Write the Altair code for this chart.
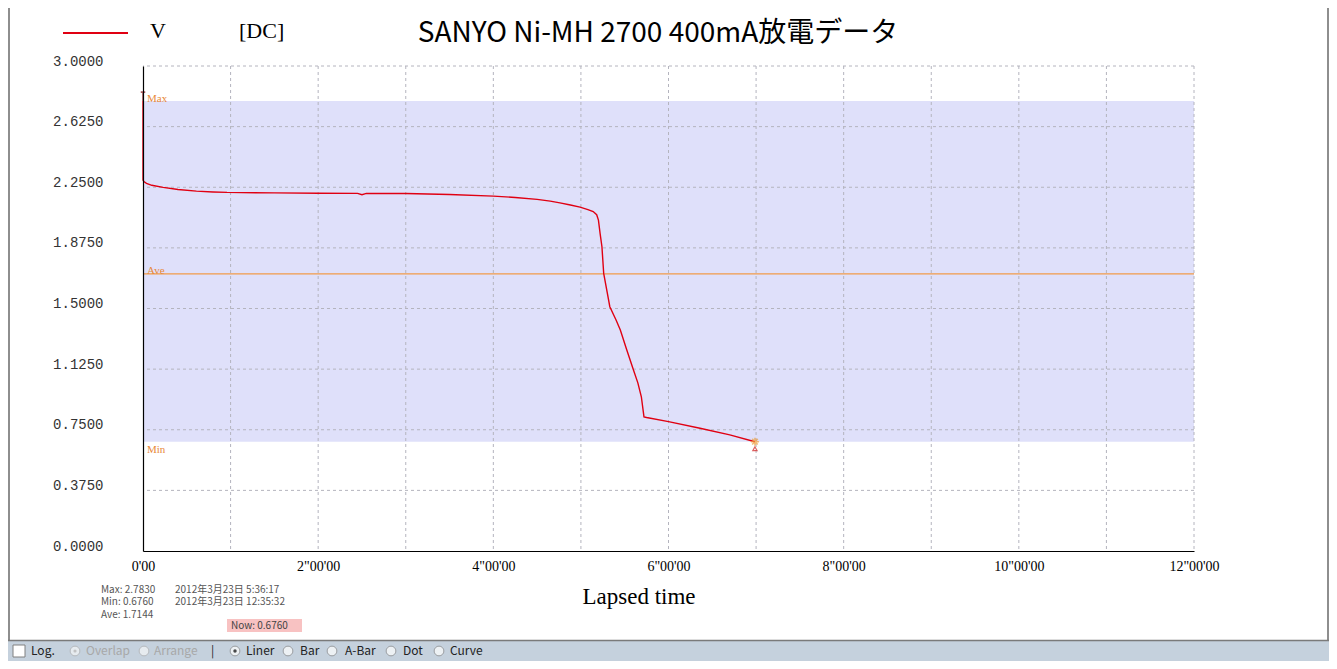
import altair as alt
import pandas as pd

# ---------------- data ----------------
time_h = [0.0, 0.0, 0.01, 0.04, 0.10, 0.23, 0.40, 0.61, 0.80, 0.96, 1.50, 2.00,
          2.45, 2.50, 2.55, 3.00, 3.50, 4.00, 4.25, 4.50, 4.65, 4.76, 4.88, 4.99,
          5.08, 5.14, 5.18, 5.20, 5.22, 5.24, 5.26, 5.30, 5.33, 5.40, 5.45, 5.52,
          5.60, 5.65, 5.69, 5.72, 5.75, 6.00, 6.36, 6.70, 6.987]
volts = [2.783, 2.294, 2.285, 2.274, 2.262, 2.249, 2.236, 2.226, 2.221, 2.218, 2.215, 2.213,
         2.212, 2.204, 2.212, 2.211, 2.205, 2.195, 2.187, 2.175, 2.164, 2.153, 2.140, 2.127,
         2.112, 2.100, 2.080, 2.047, 1.960, 1.882, 1.717, 1.600, 1.511, 1.430, 1.367, 1.250,
         1.120, 1.040, 0.954, 0.830, 0.826, 0.800, 0.759, 0.718, 0.676]

v_max = 2.7830
v_min = 0.6760
v_ave = 1.7144
v_now = 0.6760
t_max_label = "2012年3月23日  5:36:17"
t_min_label = "2012年3月23日 12:35:32"

x_ticks = list(range(0, 13))
y_ticks = [0.0, 0.375, 0.75, 1.125, 1.5, 1.875, 2.25, 2.625, 3.0]

title_text = "SANYO Ni-MH 2700 400mA放電データ"
series_name = "V"
series_unit = "[DC]"
x_title = "Lapsed time"
toolbar_items = ["Log.", "Overlap", "Arrange", "|", "Liner", "Bar", "A-Bar", "Dot", "Curve"]

# ---------------- helpers ----------------
xs = alt.Scale(domain=[x_ticks[0], x_ticks[-1]], nice=False)
ys = alt.Scale(domain=[y_ticks[0], y_ticks[-1]], nice=False)

ONE = alt.Data(values=[{}])

def note(text, x, y, **kw):
    return alt.Chart(ONE).mark_text(text=text, **kw).encode(x=alt.value(x), y=alt.value(y))

def box(x, x2, y, y2, **kw):
    return alt.Chart(ONE).mark_rect(**kw).encode(
        x=alt.value(x), x2=alt.value(x2), y=alt.value(y), y2=alt.value(y2))

def seg(x, x2, y, y2, **kw):
    return alt.Chart(ONE).mark_rule(**kw).encode(
        x=alt.value(x), x2=alt.value(x2), y=alt.value(y), y2=alt.value(y2))

def dot(x, y, **kw):
    return alt.Chart(ONE).mark_point(**kw).encode(x=alt.value(x), y=alt.value(y))

x_label_expr = ("datum.value == 0 ? \"0'00\" : "
                "(datum.value % 2 == 0 ? datum.value + \"\\\"00'00\" : '')")

x_axis = alt.Axis(values=x_ticks, labelExpr=x_label_expr, title=None, grid=False,
                  ticks=False, domainColor="#000000", domainWidth=1.2,
                  labelFont="Liberation Serif", labelFontSize=14, labelColor="#000000",
                  labelPadding=8, labelFlush=False, labelOverlap=False, zindex=1)
y_axis = alt.Axis(values=y_ticks, format=".4f", title=None, grid=False, ticks=False,
                  domainColor="#000000", domainWidth=1.2,
                  labelFont="Liberation Mono", labelFontSize=14, labelColor="#333333",
                  labelPadding=40, labelOffset=-5, labelOverlap=False, zindex=1)

def X(field):
    return alt.X(field, scale=xs, axis=x_axis)

def Y(field):
    return alt.Y(field, scale=ys, axis=y_axis)

# ---------------- plot layers ----------------
band_df = pd.DataFrame({"x0": [x_ticks[0]], "x1": [x_ticks[-1]], "lo": [v_min], "hi": [v_max]})
band = alt.Chart(band_df).mark_rect(color="#DFE0FA").encode(
    x=X("x0:Q"), x2="x1:Q", y=Y("lo:Q"), y2="hi:Q")

vgrid = alt.Chart(pd.DataFrame({"h": x_ticks[1:]})).mark_rule(
    color="#B4B4BE", strokeDash=[3, 3], strokeWidth=1).encode(x=X("h:Q"))
hgrid = alt.Chart(pd.DataFrame({"v": y_ticks[1:]})).mark_rule(
    color="#B4B4BE", strokeDash=[3, 3], strokeWidth=1).encode(y=Y("v:Q"))

ave_rule = alt.Chart(pd.DataFrame({"v": [v_ave]})).mark_rule(
    color="#F29B48", strokeWidth=1.4).encode(y=Y("v:Q"))

curve_df = pd.DataFrame({"t": time_h, "v": volts, "i": list(range(len(time_h)))})
curve = alt.Chart(curve_df).mark_line(color="#E00012", strokeWidth=1.4).encode(
    x=X("t:Q"), y=Y("v:Q"), order="i:Q")

ref_df = pd.DataFrame({"name": ["Max", "Ave", "Min"], "v": [v_max, v_ave, v_min],
                       "t": [x_ticks[0]] * 3})
LBL = dict(align="left", dx=4, font="Liberation Serif", fontSize=11, color="#E8893A")
ref_lbl_max = alt.Chart(ref_df[ref_df.name == "Max"]).mark_text(
    baseline="middle", dy=-2, **LBL).encode(x=X("t:Q"), y=Y("v:Q"), text="name:N")
ref_lbl_ave = alt.Chart(ref_df[ref_df.name == "Ave"]).mark_text(
    baseline="bottom", dy=2, **LBL).encode(x=X("t:Q"), y=Y("v:Q"), text="name:N")
ref_lbl_min = alt.Chart(ref_df[ref_df.name == "Min"]).mark_text(
    baseline="middle", dy=8, **LBL).encode(x=X("t:Q"), y=Y("v:Q"), text="name:N")

max_pt = pd.DataFrame({"t": [time_h[0]], "v": [v_max]})
end_pt = pd.DataFrame({"t": [time_h[-1]], "v": [volts[-1]]})
max_pin = alt.Chart(max_pt).mark_point(
    shape="M0,0L0,-1.6M-0.45,-1.8L0.45,-1.8", size=100, filled=False,
    color="#8B1A1A", strokeWidth=1.6).encode(x=X("t:Q"), y=Y("v:Q"))
end_star = alt.Chart(end_pt).mark_point(
    shape="M-1,0L1,0M0,-1L0,1M-0.7,-0.7L0.7,0.7M-0.7,0.7L0.7,-0.7", size=64,
    filled=False, color="#F0A040", strokeWidth=1.6).encode(x=X("t:Q"), y=Y("v:Q"))
end_tri = alt.Chart(end_pt).mark_point(
    shape="triangle-up", size=18, filled=False, color="#D02020", strokeWidth=1.2,
    yOffset=7).encode(x=X("t:Q"), y=Y("v:Q"))

# ---------------- annotations (pixel positions relative to plot origin) ----------------
SERIF = "Liberation Serif"
CJK = "Noto Sans CJK JP"
STAT = dict(font=CJK, fontSize=10, color="#555555", align="left", baseline="middle")
TB = dict(font=CJK, fontSize=12, color="#222222", align="left", baseline="middle")
TB_OFF = dict(TB, color="#A8A8A8")

annots = [
    # window frame
    seg(-134, -134, -58, 574, color="#8E8E8E", strokeWidth=2),
    seg(1185, 1185, -58, 574, color="#8E8E8E", strokeWidth=2),
    box(-135, 1186, 575, 595, color="#C5D1DD"),
    seg(-135, 1186, 574.5, 574.5, color="#7A7A7A", strokeWidth=1.5),
    # legend & title
    seg(-80, -15, -33, -33, color="#E00012", strokeWidth=2),
    note(series_name, 7, -28, font=SERIF, fontSize=22, color="#000000", align="left", baseline="alphabetic"),
    note(series_unit, 96, -28, font=SERIF, fontSize=22, color="#000000", align="left", baseline="alphabetic"),
    note(title_text, 515, -24, font=CJK, fontSize=28, color="#000000", align="center", baseline="alphabetic"),
    # axis title
    note(x_title, 496, 531, font=SERIF, fontSize=23, color="#000000", align="center"),
    # stats
    note(f"Max: {v_max:.4f}", -42, 523.5, **STAT),
    note(t_max_label, 32, 523.5, **STAT),
    note(f"Min: {v_min:.4f}", -42, 536, **STAT),
    note(t_min_label, 32, 536, **STAT),
    note(f"Ave: {v_ave:.4f}", -42, 548.5, **STAT),
    box(84, 159, 553, 566, color="#F8C2C2"),
    note(f"Now: {v_now:.4f}", 88, 559.5, **dict(STAT, color="#444444")),
    # toolbar
    box(-130, -118, 579, 591, color="#FFFFFF", stroke="#808080", strokeWidth=1),
    note(toolbar_items[0], -112, 585, **TB),
    dot(-68, 585, shape="circle", size=95, filled=True, fill="#F4F6F8", stroke="#B0B0B0", strokeWidth=1),
    dot(-68, 585, shape="circle", size=10, filled=True, color="#B0B0B0"),
    note(toolbar_items[1], -57, 585, **TB_OFF),
    dot(1, 585, shape="circle", size=95, filled=True, fill="#F4F6F8", stroke="#B0B0B0", strokeWidth=1),
    note(toolbar_items[2], 11, 585, **TB_OFF),
    note(toolbar_items[3], 68, 585, **TB),
    dot(92, 585, shape="circle", size=95, filled=True, fill="#FFFFFF", stroke="#888888", strokeWidth=1),
    dot(92, 585, shape="circle", size=12, filled=True, color="#000000"),
    note(toolbar_items[4], 103, 585, **TB),
    dot(145, 585, shape="circle", size=95, filled=True, fill="#FFFFFF", stroke="#888888", strokeWidth=1),
    note(toolbar_items[5], 157, 585, **TB),
    dot(189, 585, shape="circle", size=95, filled=True, fill="#FFFFFF", stroke="#888888", strokeWidth=1),
    note(toolbar_items[6], 202, 585, **TB),
    dot(248, 585, shape="circle", size=95, filled=True, fill="#FFFFFF", stroke="#888888", strokeWidth=1),
    note(toolbar_items[7], 260, 585, **TB),
    dot(296, 585, shape="circle", size=95, filled=True, fill="#FFFFFF", stroke="#888888", strokeWidth=1),
    note(toolbar_items[8], 307, 585, **TB),
]

chart = alt.layer(
    band, vgrid, hgrid, ave_rule, curve,
    ref_lbl_max, ref_lbl_ave, ref_lbl_min,
    max_pin, end_star, end_tri,
    *annots,
).properties(
    width=1051, height=485,
    autosize=alt.AutoSizeParams(type="none"),
    padding={"left": 135, "right": 135, "top": 58, "bottom": 110},
    background="#FFFFFF",
).configure_view(stroke=None)

chart.save("out.html", embed_options={"renderer": "svg", "actions": False})
